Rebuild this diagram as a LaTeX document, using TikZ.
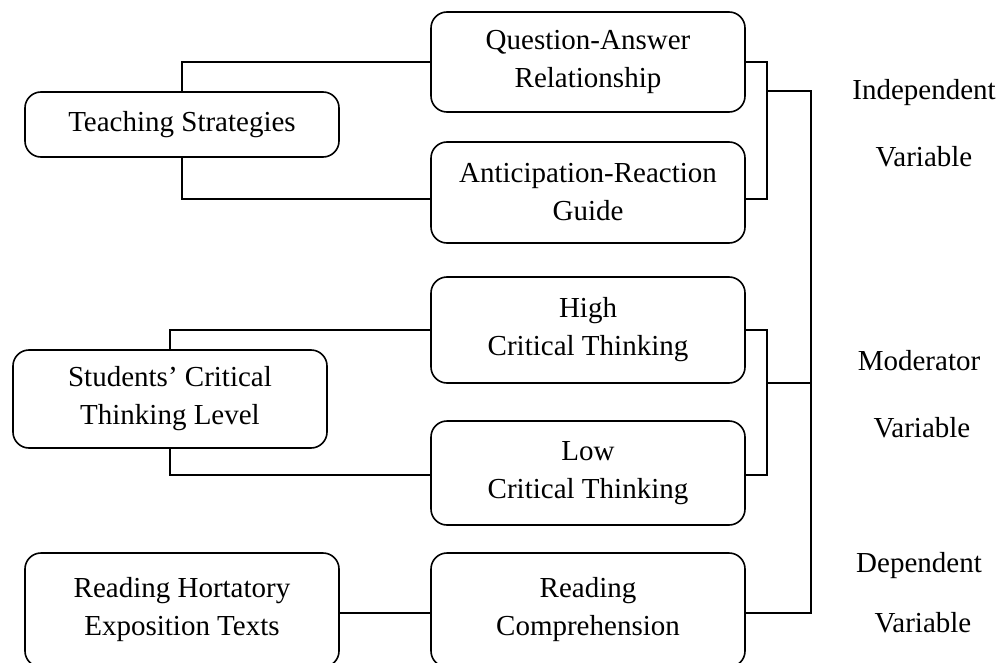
\documentclass[tikz,border=0pt]{standalone}
\usepackage{fontspec}
\setmainfont{Liberation Serif}
\begin{document}
\begin{tikzpicture}[x=1pt,y=-1pt,
  box/.style={draw,line width=1.6pt,rounded corners=16pt,inner sep=0pt,align=center,
    minimum width=314pt,font=\fontsize{29}{38}\selectfont},
  lbl/.style={inner sep=0pt,anchor=base,font=\fontsize{29}{35}\selectfont},
  conn/.style={line width=1.6pt}]
\useasboundingbox (0,0) rectangle (1000,663);
% right column
\node[box,minimum height=100pt] (qar) at (588,62) {Question-Answer\\Relationship};
\node[box,minimum height=101pt] (arg) at (588,192.5) {Anticipation-Reaction\\Guide};
\node[box,minimum height=106pt] (hct) at (588,330) {High\\Critical Thinking};
\node[box,minimum height=104pt] (lct) at (588,473) {Low\\Critical Thinking};
\node[box,minimum height=114pt] (rc) at (588,610) {Reading\\Comprehension};
% left column
\node[box,minimum height=65pt] (ts) at (182,124.5) {Teaching Strategies};
\node[box,minimum height=98pt] (sctl) at (170,399) {Students’ Critical\\Thinking Level};
\node[box,minimum height=114pt] (rhet) at (182,610) {Reading Hortatory\\Exposition Texts};
% labels
\node[lbl] (l1) at (924,100) {Independent};
\node[lbl] (l2) at (924,167) {Variable};
\node[lbl] (l3) at (919,370) {Moderator};
\node[lbl] (l4) at (922,437) {Variable};
\node[lbl] (l5) at (919,572) {Dependent};
\node[lbl] (l6) at (923,632) {Variable};
% bracket coordinates
\coordinate (b1) at (767,91);
\coordinate (b2) at (767,383);
\coordinate (mtop) at (811,91);
\coordinate (mmid) at (811,383);
\coordinate (mbot) at (811,613);
% connectors left
\draw[conn] (ts.north) |- (qar.west);
\draw[conn] (ts.south) |- ([yshift=-6.5pt]arg.west);
\draw[conn] (sctl.north) |- (hct.west);
\draw[conn] (sctl.south) |- ([yshift=-2pt]lct.west);
\draw[conn] ([yshift=-3pt]rhet.east) -- ([yshift=-3pt]rc.west);
% connectors right
\draw[conn] (qar.east) -- (qar.east -| b1) |- ([yshift=-6.5pt]arg.east);
\draw[conn] (hct.east) -- (hct.east -| b2) |- ([yshift=-2pt]lct.east);
\draw[conn] (b1) -- (mtop) -- (mbot) -- ([yshift=-3pt]rc.east);
\draw[conn] (b2) -- (mmid);
\end{tikzpicture}
\end{document}
